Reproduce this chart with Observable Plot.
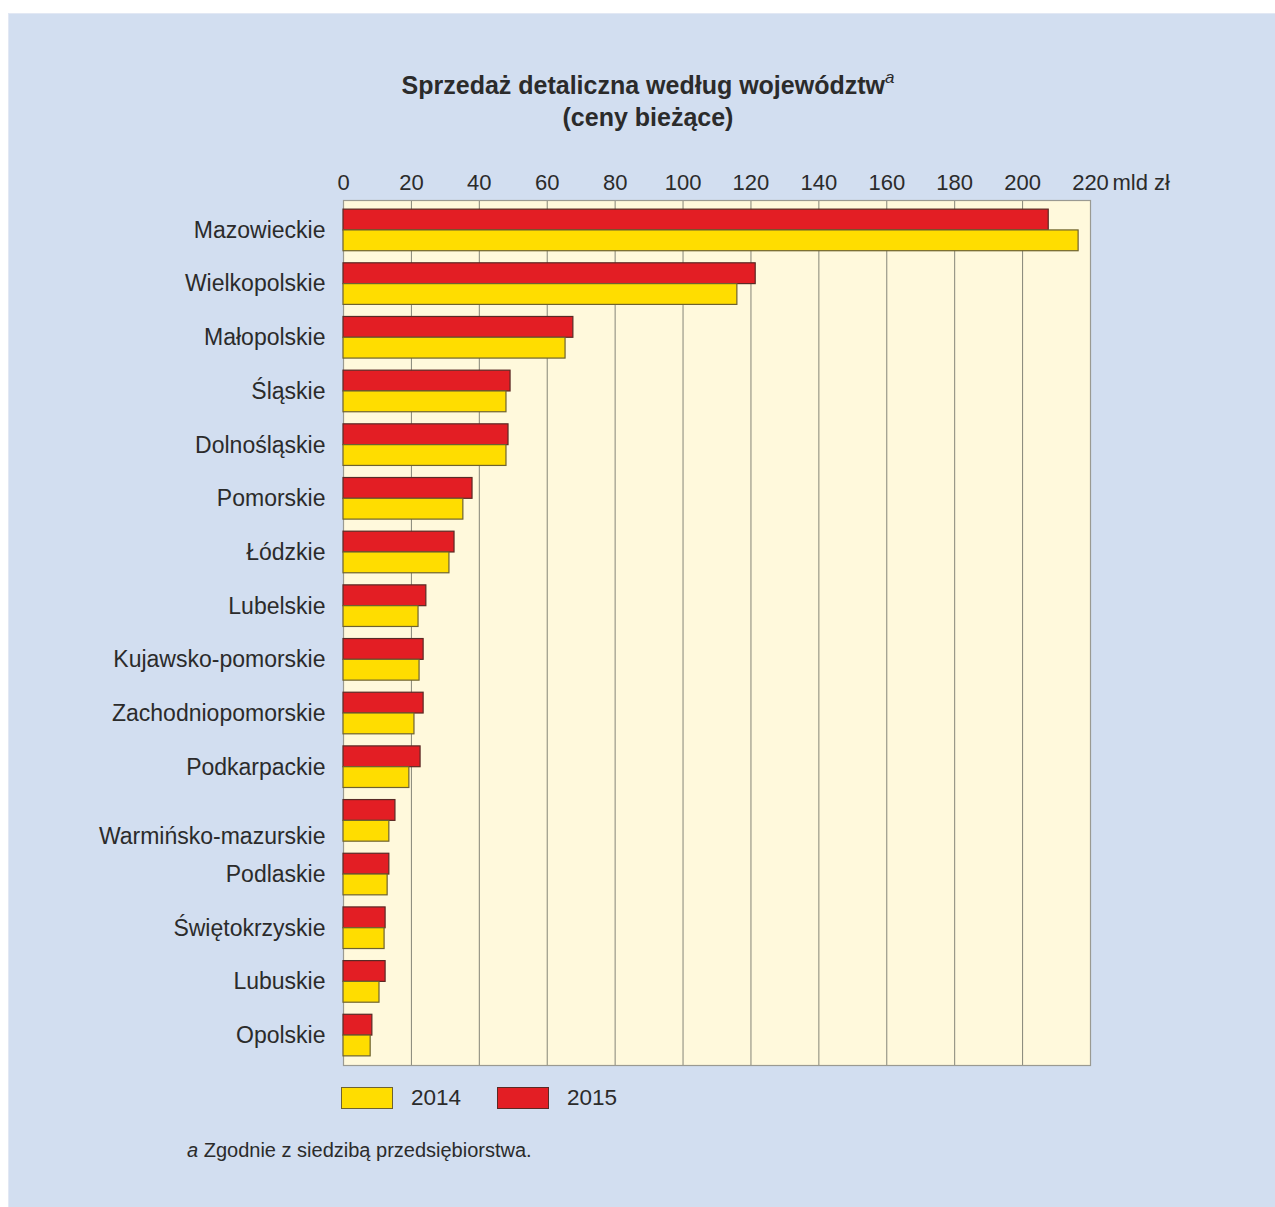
<!DOCTYPE html>
<html>
<head>
<meta charset="utf-8">
<script src="https://cdn.jsdelivr.net/npm/d3@7"></script>
<script src="https://cdn.jsdelivr.net/npm/@observablehq/plot@0.6"></script>
<style>
  body { margin: 0; background: #ffffff; font-family: "Liberation Sans", Arial, Helvetica, sans-serif; color: #2b2b2b; }
  #page { position: relative; width: 1275px; height: 1207px; overflow: hidden; }
  #panel { position: absolute; left: 8px; top: 13px; right: 0; bottom: 0; background: #d2def0; border-left: 1px solid #e2e8f4; border-top: 1px solid #e2e8f4; }
  #chart { position: absolute; left: 0; top: 0; line-height: 0; }
  #title { position: absolute; left: 298px; width: 700px; top: 69px; text-align: center; font-weight: bold; font-size: 25px; line-height: 32px; }
  #title sup { font-weight: normal; font-style: italic; font-size: 17px; line-height: 0; position: relative; top: -2px; }
  .legend { position: absolute; top: 1087px; display: flex; align-items: center; font-size: 22.5px; line-height: 22px; }
  .sw { width: 52px; height: 22px; box-sizing: border-box; margin-right: 18px; }
  #note { position: absolute; left: 187px; top: 1138px; font-size: 20px; line-height: 24px; }
</style>
</head>
<body>
<div id="page">
  <div id="panel"></div>
  <div id="title">Sprzedaż detaliczna według województw<sup>a</sup><br>(ceny bieżące)</div>
  <div id="chart"></div>
  <div class="legend" style="left:341px"><div class="sw" style="background:#ffdd00;border:1px solid #6e6230"></div><span>2014</span></div>
  <div class="legend" style="left:497px"><div class="sw" style="background:#e31e24;border:1px solid #5a2a25"></div><span>2015</span></div>
  <div id="note"><i>a</i> Zgodnie z siedzibą przedsiębiorstwa.</div>
</div>
<script>
const regions = ["Mazowieckie","Wielkopolskie","Małopolskie","Śląskie","Dolnośląskie","Pomorskie","Łódzkie","Lubelskie","Kujawsko-pomorskie","Zachodniopomorskie","Podkarpackie","Warmińsko-mazurskie","Podlaskie","Świętokrzyskie","Lubuskie","Opolskie"];
const v2014 = [216.5, 116.0, 65.4, 48.0, 48.0, 35.3, 31.2, 22.1, 22.4, 20.9, 19.4, 13.5, 13.0, 12.1, 10.6, 8.0];
const v2015 = [207.7, 121.4, 67.7, 49.2, 48.6, 38.0, 32.7, 24.4, 23.6, 23.6, 22.7, 15.3, 13.5, 12.4, 12.4, 8.5];
const xTicks = [0, 20, 40, 60, 80, 100, 120, 140, 160, 180, 200, 220];
const unitLabel = "mld zł";

const rows2014 = regions.map((r, i) => ({region: r, year: "2014", value: v2014[i]}));
const rows2015 = regions.map((r, i) => ({region: r, year: "2015", value: v2015[i]}));

const W = 1275, H = 1100, mT = 200, mB = 35, mL = 343, mR = 185;
const pIn = 0.225, pOut = 0.17;
const bw = (H - mT - mB) / (regions.length - pIn + 2 * pOut) * (1 - pIn);
const shifted = "Warmińsko-mazurskie";
const txt = "#2b2b2b";

const chart = Plot.plot({
  width: W, height: H,
  marginTop: mT, marginBottom: mB, marginLeft: mL, marginRight: mR,
  style: {background: "transparent", fontFamily: "'Liberation Sans', Arial, Helvetica, sans-serif"},
  x: {domain: [0, 220], axis: null},
  y: {domain: regions, paddingInner: pIn, paddingOuter: pOut, round: false, axis: null},
  marks: [
    Plot.frame({fill: "#fff9dc", stroke: "none"}),
    Plot.gridX(xTicks, {stroke: "#858578", strokeOpacity: 1, strokeWidth: 1}),
    Plot.frame({stroke: "#9a9a92", strokeWidth: 1.2}),
    Plot.barX(rows2015, {x: "value", y: "region", fill: "#e31e24", stroke: "#5a2a25", strokeWidth: 1.2, insetBottom: bw / 2}),
    Plot.barX(rows2014, {x: "value", y: "region", fill: "#ffdd00", stroke: "#6e6230", strokeWidth: 1.2, insetTop: bw / 2}),
    Plot.axisX({anchor: "top", ticks: xTicks, tickSize: 0, tickPadding: 11, fontSize: 22, color: txt, label: null}),
    Plot.text([unitLabel], {x: () => 220, text: d => d, frameAnchor: "top", textAnchor: "start", lineAnchor: "bottom", dx: 22, dy: -11, fontSize: 22, fill: txt}),
    Plot.text(regions.filter(r => r !== shifted), {y: d => d, text: d => d, frameAnchor: "left", textAnchor: "end", dx: -18, fontSize: 23, fill: txt}),
    Plot.text([shifted], {y: d => d, text: d => d, frameAnchor: "left", textAnchor: "end", dx: -18, dy: 16, fontSize: 23, fill: txt})
  ]
});
document.getElementById("chart").appendChild(chart);
</script>
</body>
</html>
